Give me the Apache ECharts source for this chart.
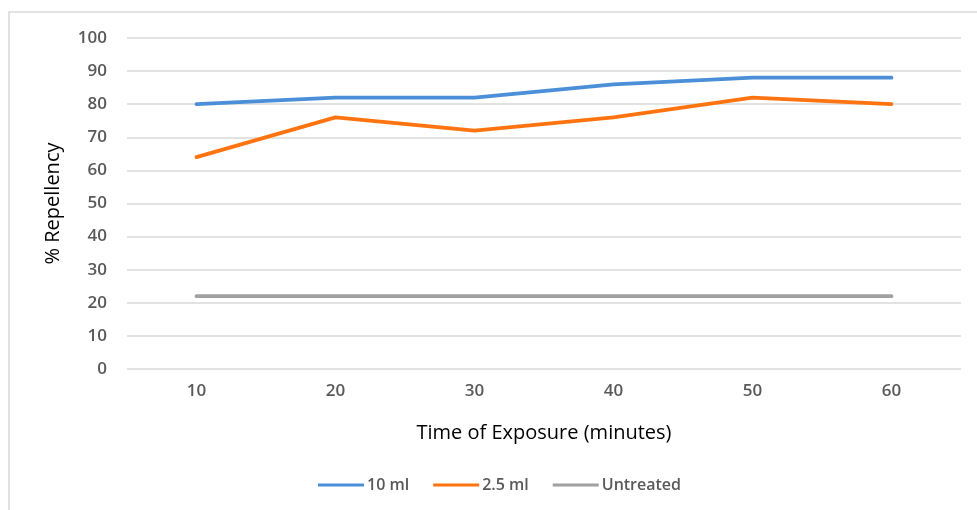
<!DOCTYPE html>
<html><head><meta charset="utf-8">
<script src="https://cdn.jsdelivr.net/npm/echarts@6/dist/echarts.min.js"></script>
<style>html,body{margin:0;padding:0;background:#fff}#c{width:977px;height:510px}</style>
</head><body><div id="c"></div>
<script>
var categories = ['10','20','30','40','50','60'];
var ml10 = [80, 82, 82, 86, 88, 88];
var ml25 = [64, 76, 72, 76, 82, 80];
var untreated = [22, 22, 22, 22, 22, 22];
var seriesNames = ['10 ml', '2.5 ml', 'Untreated'];
var yTicks = {min: 0, max: 100, interval: 10};

var chart = echarts.init(document.getElementById('c'));
var font = '"Open Sans", Lato, sans-serif';
function mk(name, data, color) {
  return {name: name, type: 'line', data: data, symbol: 'none',
    lineStyle: {color: color, width: 3.8, cap: 'round'}, itemStyle: {color: color}};
}
chart.setOption({
  animation: false,
  graphic: [{type: 'rect', shape: {x: 9, y: 12, width: 1000, height: 520},
    style: {fill: 'none', stroke: '#d9d9d9', lineWidth: 1.5}, silent: true}],
  grid: {left: 127, right: 16, top: 38, bottom: 141},
  legend: {left: 313, top: 472, icon: 'rect', itemWidth: 46, itemHeight: 3, itemGap: 24,
    textStyle: {color: '#595959', fontSize: 16, fontWeight: 600, fontFamily: font, padding: [0,0,0,-2]}, data: seriesNames},
  xAxis: {type: 'category', data: categories, boundaryGap: true,
    name: 'Time of Exposure (minutes)', nameLocation: 'middle', nameGap: 54,
    nameTextStyle: {color: '#000', fontSize: 20, fontFamily: font},
    axisLine: {show: false}, axisTick: {show: false},
    axisLabel: {color: '#595959', fontSize: 17, fontWeight: 600, fontFamily: font, margin: 14}},
  yAxis: {type: 'value', min: yTicks.min, max: yTicks.max, interval: yTicks.interval,
    name: '% Repellency', nameLocation: 'middle', nameGap: 64,
    nameTextStyle: {color: '#000', fontSize: 20, fontFamily: font},
    axisLine: {show: false}, axisTick: {show: false},
    splitLine: {lineStyle: {color: '#d9d9d9', width: 1.5}},
    axisLabel: {color: '#595959', fontSize: 17, fontWeight: 600, fontFamily: font, margin: 20}},
  series: [mk(seriesNames[0], ml10, '#4a8fd8'), mk(seriesNames[1], ml25, '#ff7410'), mk(seriesNames[2], untreated, '#a0a0a0')]
});
</script></body></html>
